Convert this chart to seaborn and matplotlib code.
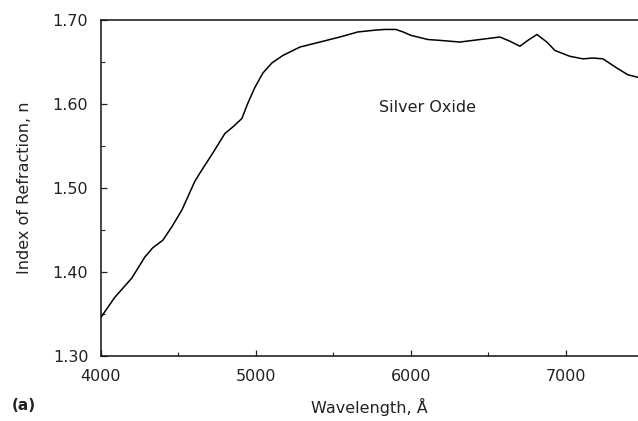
import matplotlib
matplotlib.use("Agg")
import matplotlib.pyplot as plt
from matplotlib.ticker import MultipleLocator
import seaborn as sns
import pandas as pd

# Refractive index of silver oxide versus wavelength
wavelength = [4000, 4090, 4200, 4284, 4335, 4400, 4458, 4523, 4606, 4639,
              4723, 4800, 4852, 4910, 4948, 4994, 5045, 5103, 5174, 5284,
              5413, 5542, 5658, 5760, 5832, 5903, 5950, 6000, 6110, 6187,
              6316, 6445, 6574, 6639, 6703, 6755, 6813, 6877, 6929, 7026,
              7110, 7174, 7239, 7329, 7400, 7465]
index_n = [1.346, 1.370, 1.393, 1.418, 1.429, 1.438, 1.454, 1.474, 1.508, 1.518,
           1.542, 1.565, 1.573, 1.583, 1.601, 1.620, 1.637, 1.649, 1.658, 1.668,
           1.674, 1.680, 1.686, 1.688, 1.689, 1.689, 1.686, 1.682, 1.677, 1.676,
           1.674, 1.677, 1.680, 1.675, 1.669, 1.676, 1.683, 1.674, 1.664, 1.657,
           1.654, 1.655, 1.654, 1.643, 1.635, 1.632]

x_ticks = [4000, 5000, 6000, 7000]
y_ticks = [1.30, 1.40, 1.50, 1.60, 1.70]

df = pd.DataFrame({"wavelength": wavelength, "n": index_n})

sns.set_theme(style="white")
plt.rcParams["font.family"] = ["DejaVu Sans"]

fig = plt.figure(figsize=(6.38, 4.21), dpi=100)
ax = fig.add_axes([0.158, 0.154, 0.842, 0.798])

sns.lineplot(data=df, x="wavelength", y="n", ax=ax, color="black",
             linewidth=1.1, estimator=None, sort=False)

ax.set_xlim(4000, 7465)
ax.set_ylim(1.30, 1.70)
ax.set_xticks(x_ticks)
ax.set_xticklabels([str(v) for v in x_ticks])
ax.set_yticks(y_ticks)
ax.set_yticklabels([f"{v:.2f}" for v in y_ticks])
ax.xaxis.set_minor_locator(MultipleLocator(500))
ax.yaxis.set_minor_locator(MultipleLocator(0.05))

ax.tick_params(axis="both", which="major", direction="in", length=4, width=0.9,
               labelsize=11.5, colors="#222222", labelcolor="#222222")
ax.tick_params(axis="both", which="minor", direction="in", length=3, width=0.8,
               colors="#222222")
ax.tick_params(axis="x", which="both", bottom=True, pad=9)
ax.tick_params(axis="y", which="both", left=True, pad=9)

for side in ["left", "bottom", "top"]:
    ax.spines[side].set_visible(True)
    ax.spines[side].set_color("#111111")
    ax.spines[side].set_linewidth(1.1)
ax.spines["right"].set_visible(False)

ax.set_xlabel("Wavelength, Å", fontsize=11.5, color="#222222", labelpad=10)
ax.set_ylabel("Index of Refraction, n", fontsize=11.5, color="#222222", labelpad=15)

ax.text(6110, 1.596, "Silver Oxide", fontsize=11.5, color="#222222",
        ha="center", va="center")
fig.text(0.038, 0.038, "(a)", fontsize=11, fontweight="bold", color="#222222",
         ha="center", va="center")

fig.savefig("out.png", dpi=100, facecolor="white")
